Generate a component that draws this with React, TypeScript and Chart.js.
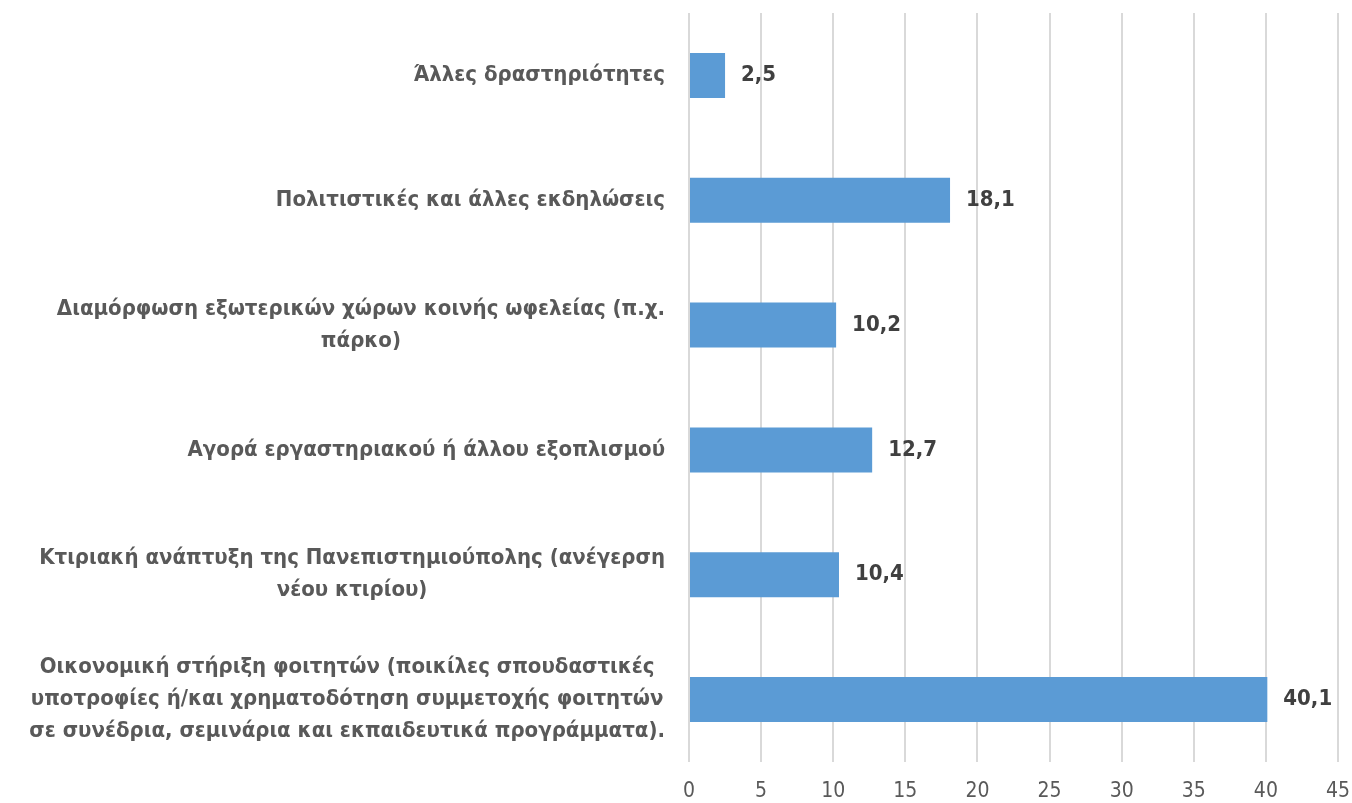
import React, { useEffect, useRef } from "react";
import { Chart, registerables } from "chart.js";

Chart.register(...registerables);

const categories: string[][] = [
  ["Άλλες δραστηριότητες"],
  ["Πολιτιστικές και άλλες εκδηλώσεις"],
  ["Διαμόρφωση εξωτερικών χώρων κοινής ωφελείας (π.χ.", "πάρκο)"],
  ["Αγορά εργαστηριακού ή άλλου εξοπλισμού"],
  ["Κτιριακή ανάπτυξη της Πανεπιστημιούπολης (ανέγερση", "νέου κτιρίου)"],
  [
    "Οικονομική στήριξη φοιτητών (ποικίλες σπουδαστικές",
    "υποτροφίες ή/και χρηματοδότηση συμμετοχής φοιτητών",
    "σε συνέδρια, σεμινάρια και εκπαιδευτικά προγράμματα).",
  ],
];
const values: number[] = [2.5, 18.1, 10.2, 12.7, 10.4, 40.1];
const xMin = 0;
const xMax = 45;
const xStep = 5;

const FONT = "'Liberation Sans Narrow', 'DejaVu Sans Condensed', 'Liberation Sans', sans-serif";

const categoryLabelPlugin = {
  id: "categoryLabels",
  afterDraw(chart: any) {
    const ctx = chart.ctx;
    const yScale = chart.scales.y;
    const right = chart.chartArea.left - 24;
    const lineH = 32;
    ctx.save();
    ctx.font = `bold 22px ${FONT}`;
    ctx.fillStyle = "#595959";
    ctx.textBaseline = "middle";
    ctx.textAlign = "center";
    categories.forEach((lines, i) => {
      const yc = yScale.getPixelForTick(i);
      const w = Math.max(...lines.map((l) => ctx.measureText(l).width));
      const cx = right - w / 2;
      const top = yc - ((lines.length - 1) * lineH) / 2;
      lines.forEach((l, j) => ctx.fillText(l, cx, top + j * lineH));
    });
    ctx.restore();
  },
};

const valueLabelPlugin = {
  id: "valueLabels",
  afterDatasetsDraw(chart: any) {
    const ctx = chart.ctx;
    const meta = chart.getDatasetMeta(0);
    ctx.save();
    ctx.font = `bold 22px ${FONT}`;
    ctx.fillStyle = "#404040";
    ctx.textBaseline = "middle";
    ctx.textAlign = "left";
    meta.data.forEach((bar: any, i: number) => {
      ctx.fillText(values[i].toFixed(1).replace(".", ","), bar.x + 16, bar.y);
    });
    ctx.restore();
  },
};

export default function App() {
  const ref = useRef<HTMLCanvasElement>(null);
  useEffect(() => {
    if (!ref.current) return;
    const chart = new Chart(ref.current, {
      type: "bar",
      data: {
        labels: categories.map((c) => c.join(" ")),
        datasets: [
          {
            data: values,
            backgroundColor: "#5b9bd5",
            borderColor: "#5b9bd5",
            borderWidth: 0,
            barPercentage: 0.36,
            categoryPercentage: 1,
          },
        ],
      },
      options: {
        indexAxis: "y",
        animation: false,
        responsive: true,
        maintainAspectRatio: false,
        layout: { padding: { top: 13, right: 0, left: 0, bottom: 0 } },
        plugins: { legend: { display: false }, tooltip: { enabled: false } },
        scales: {
          x: {
            min: xMin,
            max: xMax,
            ticks: {
              stepSize: xStep,
              color: "#595959",
              font: { size: 21, family: FONT },
              padding: 17,
            },
            grid: { color: "#d9d9d9", lineWidth: 2, drawTicks: false },
            border: { display: false },
            afterFit: (s: any) => {
              s.height = 41;
              s.paddingLeft = 0;
              s.paddingRight = 14;
            },
          },
          y: {
            ticks: { display: false },
            grid: { display: false },
            border: { display: false },
            afterFit: (s: any) => {
              s.width = 689;
            },
          },
        },
      },
      plugins: [categoryLabelPlugin, valueLabelPlugin],
    });
    return () => chart.destroy();
  }, []);
  return (
    <div style={{ position: "fixed", left: 0, top: 0, width: 1352, height: 803, background: "#fff" }}>
      <canvas ref={ref} />
    </div>
  );
}
